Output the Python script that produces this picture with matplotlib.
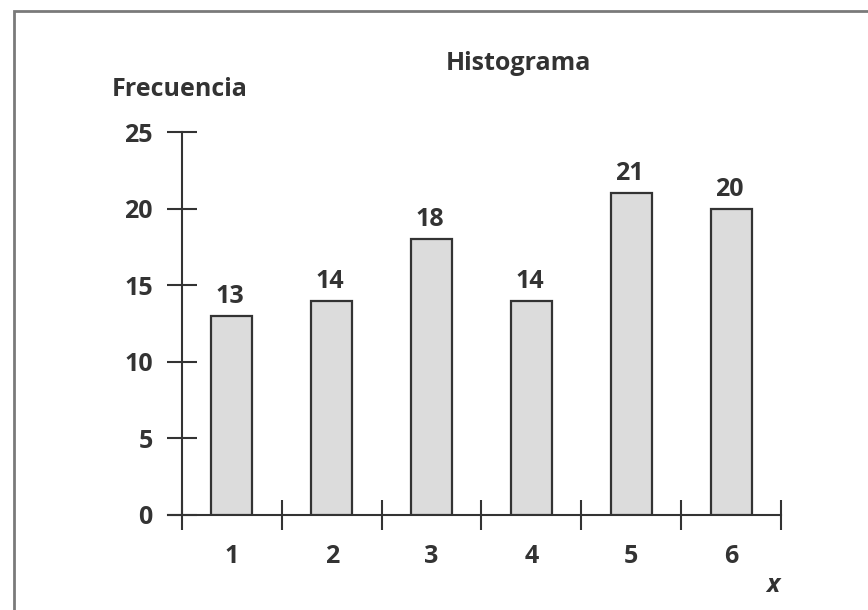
import matplotlib.pyplot as plt
from matplotlib.patches import Rectangle

plt.rcParams['font.family'] = ['Open Sans', 'DejaVu Sans']

x_vals = [1, 2, 3, 4, 5, 6]
frecuencia = [13, 14, 18, 14, 21, 20]
y_ticks = [0, 5, 10, 15, 20, 25]
bin_edges = [0.5, 1.5, 2.5, 3.5, 4.5, 5.5, 6.5]

FS = 18
W = 'bold'
TXT = '#333333'

fig = plt.figure(figsize=(8.68, 6.1), dpi=100)
ax = fig.add_axes([168 / 868, 95 / 610, 613 / 868, 383 / 610])

# marco exterior
fig.add_artist(Rectangle((14 / 868, -0.1), 1.2, 1.1 - 11 / 610,
                         transform=fig.transFigure, fill=False,
                         edgecolor='#7a7a7a', linewidth=2))

ax.bar(x_vals, frecuencia, width=0.41, color='#dcdcdc', edgecolor='#333333',
       linewidth=1.6, zorder=3)
for xv, f in zip(x_vals, frecuencia):
    ax.text(xv - 0.02, f + 0.45, str(f), ha='center', va='bottom', fontsize=FS,
            color=TXT, fontweight=W)

ax.set_xlim(0.36, 6.5)
ax.set_ylim(0, 25)
for s in ['top', 'right']:
    ax.spines[s].set_visible(False)
ax.spines['left'].set_position(('data', 0.5))
ax.spines['left'].set_color('#333333')
ax.spines['bottom'].set_color('#333333')
ax.spines['left'].set_linewidth(1.5)
ax.spines['bottom'].set_linewidth(1.5)

ax.set_yticks(y_ticks)
ax.set_yticklabels([str(t) for t in y_ticks], fontsize=FS, fontweight=W,
                   color=TXT)
ax.tick_params(axis='y', direction='inout', length=22, width=1.5,
               color='#333333', pad=10)

ax.set_xticks(bin_edges)
ax.set_xticklabels([])
ax.set_xticks(x_vals, minor=True)
ax.set_xticklabels([str(v) for v in x_vals], minor=True, fontsize=FS,
                   fontweight=W, color=TXT)
ax.tick_params(axis='x', which='major', direction='inout', length=22,
               width=1.5, color='#333333')
ax.tick_params(axis='x', which='minor', length=0, pad=21)

fig.text(518 / 868, 1 - 64 / 610, 'Histograma', ha='center', va='center',
         fontsize=FS, fontweight=W, color=TXT)
fig.text(112 / 868, 1 - 90 / 610, 'Frecuencia', ha='left', va='center',
         fontsize=FS, fontweight=W, color=TXT)
fig.text(773 / 868, 1 - 585 / 610, 'x', ha='center', va='center',
         fontsize=FS, fontweight=W, fontstyle='italic', color=TXT)

fig.savefig('out.png', dpi=100)
